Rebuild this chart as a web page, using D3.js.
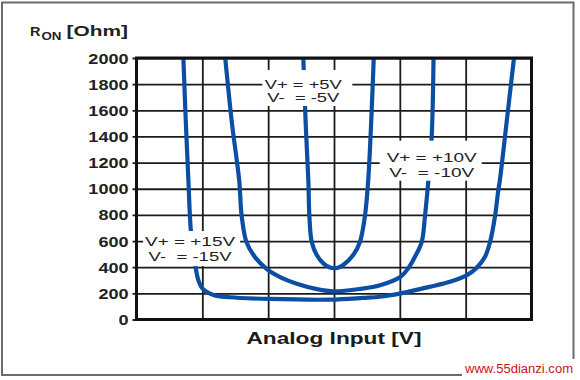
<!DOCTYPE html>
<html><head><meta charset="utf-8">
<script src="https://cdn.jsdelivr.net/npm/d3@7/dist/d3.min.js"></script>
<style>html,body{margin:0;padding:0;background:#fff}svg{display:block}</style>
</head><body>
<svg id="chart" width="580" height="380"></svg>
<script>
// ---- data ----
const xTicks = [-15, -10, -5, 0, 5, 10, 15];
const yTicks = [0, 200, 400, 600, 800, 1000, 1200, 1400, 1600, 1800, 2000];
const seriesNames = ["±5V", "±10V", "±15V"];
// [analog input V, R_ON Ohm]
const supply5 = [[-2.33,2000],[-2.15,1500],[-1.95,1065],[-1.87,791],[-1.69,592],[-1.31,493],[-0.81,429],[-0.35,400],[0,392],[0.35,398],[0.7,417],[1.46,493],[1.97,593],[2.35,792],[2.6,1067],[2.82,1500],[3.02,2000]];
const supply10 = [[-8.26,2000],[-7.75,1500],[-7.2,1065],[-7.02,800],[-6.64,590],[-6.0,477],[-5.1,385],[-4.1,324],[-2.83,273],[-1.3,232],[0,215],[2.0,234],[3.5,262],[5.06,327],[5.64,392],[6.15,480],[6.66,592],[6.91,791],[7.17,1067],[7.42,1400],[7.56,2000]];
const supply15 = [[-11.44,2000],[-11.25,1500],[-11.06,1065],[-10.86,665],[-10.53,413],[-10.3,300],[-10.0,238],[-9.15,187],[-7.9,170],[-4.85,157],[-0.3,152],[2.2,165],[3.5,174],[5.06,200],[7.3,251],[8.8,289],[10.1,340],[10.8,392],[11.47,480],[11.85,592],[12.23,791],[12.48,990],[12.6,1067],[13.1,1500],[13.67,2000]];
const seriesData = [supply5, supply10, supply15];
const labelLine1 = ["V+ = +5V", "V+ = +10V", "V+ = +15V"];
const labelLine2 = ["V-  = -5V", "V-  = -10V", "V-  = -15V"];
const labelAnchorX = [-2.33, 7.42, -10.93];   // volts (text centre)
const labelAnchorY = [1763, 1207, 562];       // ohms (first baseline)
const xTitle = "Analog Input [V]";
const watermark = "www.55dianzi.com";

// ---- layout ----
const W = 580, H = 380;
const m = {left: 136.5, right: 531.5, top: 58, bottom: 319.5};
const svg = d3.select("#chart");
const x = d3.scaleLinear().domain([-15, 15]).range([m.left, m.right]);
const y = d3.scaleLinear().domain([0, 2000]).range([m.bottom, m.top]);
const pw = m.right - m.left, ph = m.bottom - m.top;

svg.append("rect").attr("width", W).attr("height", H).attr("fill", "#fff");
// outer frame
svg.append("rect").attr("x", 2).attr("y", 2.5).attr("width", 571.5).attr("height", 372.5)
  .attr("fill", "none").attr("stroke", "#6b6b6b").attr("stroke-width", 2);

// grid via axes
const gy = svg.append("g").attr("transform", `translate(${m.left},0)`)
  .call(d3.axisLeft(y).tickValues(yTicks).tickSize(-pw).tickFormat(d3.format("d")).tickPadding(0));
gy.select(".domain").remove();
gy.selectAll(".tick line").attr("x1", -4).attr("stroke", "#1c1c1c").attr("stroke-width", 1.8);
gy.selectAll(".tick text")
  .attr("x", -8 / 1.29).attr("dy", null).attr("y", 5)
  .attr("transform", "scale(1.29,1)")
  .attr("font-family", "Liberation Sans, Arial, sans-serif")
  .attr("font-weight", "bold").attr("font-size", 14).attr("fill", "#222")
  .attr("text-anchor", "end");

const gx = svg.append("g").attr("transform", `translate(0,${m.bottom})`)
  .call(d3.axisBottom(x).tickValues(xTicks).tickSize(-ph).tickFormat(""));
gx.select(".domain").remove();
gx.selectAll(".tick line").attr("stroke", "#1c1c1c").attr("stroke-width", 1.8);

// curves
svg.append("clipPath").attr("id", "plotclip").append("rect")
  .attr("x", m.left).attr("y", m.top).attr("width", pw).attr("height", ph);
const line = d3.line().x(d => x(d[0])).y(d => y(d[1])).curve(d3.curveCatmullRom.alpha(0.5));
svg.append("g").attr("clip-path", "url(#plotclip)")
  .selectAll("path").data(seriesData).join("path")
  .attr("d", line).attr("fill", "none")
  .attr("stroke", "#0b4ea3").attr("stroke-width", 4.2)
  .attr("stroke-linejoin", "round").attr("stroke-linecap", "butt");

// label boxes
const boxL = [-41, -52, -47], boxR = [49, 50, 50], boxT = [-19, -21, -15], boxB = [17, 19, 20];
const gap2 = [12.7, 15, 15];
const len1 = [77, 90, 90], len2 = [72, 85, 83];
seriesNames.forEach((n, i) => {
  const cx = x(labelAnchorX[i]), by = y(labelAnchorY[i]);
  const g = svg.append("g");
  g.append("rect").attr("x", cx + boxL[i]).attr("y", by + boxT[i])
    .attr("width", boxR[i] - boxL[i]).attr("height", boxB[i] - boxT[i]).attr("fill", "#fff");
  [labelLine1[i], labelLine2[i]].forEach((t, k) => {
    const len = k ? len2[i] : len1[i];
    g.append("text").attr("x", cx - len / 2).attr("y", by + (k ? gap2[i] : 0))
      .attr("textLength", len).attr("lengthAdjust", "spacingAndGlyphs")
      .style("white-space", "pre")
      .attr("font-family", "Liberation Sans, Arial, sans-serif").attr("font-size", 12.5)
      .attr("fill", "#222").text(t);
  });
});

// plot border
svg.append("rect").attr("x", m.left).attr("y", m.top).attr("width", pw).attr("height", ph)
  .attr("fill", "none").attr("stroke", "#111").attr("stroke-width", 3);

// y title: R_ON [Ohm]
const tf = "Liberation Sans, Arial, sans-serif";
svg.append("text").attr("x", 30).attr("y", 36).attr("font-family", tf).attr("font-weight", "bold")
  .attr("font-size", 13).attr("fill", "#222").attr("textLength", 10.5).attr("lengthAdjust", "spacingAndGlyphs").text("R");
svg.append("text").attr("x", 41.5).attr("y", 40).attr("font-family", tf).attr("font-weight", "bold")
  .attr("font-size", 10).attr("fill", "#222").attr("textLength", 20).attr("lengthAdjust", "spacingAndGlyphs").text("ON");
svg.append("text").attr("x", 66.5).attr("y", 36).attr("font-family", tf).attr("font-weight", "bold")
  .attr("font-size", 14).attr("fill", "#222").attr("textLength", 61.5).attr("lengthAdjust", "spacingAndGlyphs").text("[Ohm]");

// x title
svg.append("text").attr("x", 246.5).attr("y", 344).attr("font-family", tf).attr("font-weight", "bold")
  .attr("font-size", 16.5).attr("fill", "#1a1a1a").attr("textLength", 175).attr("lengthAdjust", "spacingAndGlyphs")
  .text(xTitle);

// watermark
svg.append("rect").attr("x", 462).attr("y", 359).attr("width", 118).attr("height", 21).attr("fill", "#fff");
svg.append("text").attr("x", 465).attr("y", 372.5).attr("font-family", tf)
  .attr("font-size", 13).attr("fill", "#cc1020").attr("textLength", 108).attr("lengthAdjust", "spacingAndGlyphs")
  .text(watermark);
</script>
</body></html>
